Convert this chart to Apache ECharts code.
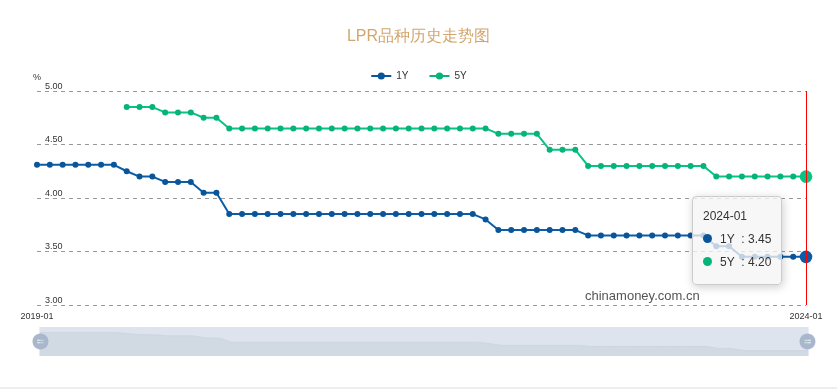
<!DOCTYPE html>
<html>
<head>
<meta charset="utf-8">
<script src="https://cdn.jsdelivr.net/npm/echarts@6/dist/echarts.min.js"></script>
<style>
html,body{margin:0;padding:0;background:#fff;}
#main{width:837px;height:392px;}
</style>
</head>
<body>
<div id="main"></div>
<script>
var months = [
'2019-01','2019-02','2019-03','2019-04','2019-05','2019-06','2019-07','2019-08','2019-09','2019-10','2019-11','2019-12',
'2020-01','2020-02','2020-03','2020-04','2020-05','2020-06','2020-07','2020-08','2020-09','2020-10','2020-11','2020-12',
'2021-01','2021-02','2021-03','2021-04','2021-05','2021-06','2021-07','2021-08','2021-09','2021-10','2021-11','2021-12',
'2022-01','2022-02','2022-03','2022-04','2022-05','2022-06','2022-07','2022-08','2022-09','2022-10','2022-11','2022-12',
'2023-01','2023-02','2023-03','2023-04','2023-05','2023-06','2023-07','2023-08','2023-09','2023-10','2023-11','2023-12',
'2024-01'
];
var lpr1Y = [
4.31,4.31,4.31,4.31,4.31,4.31,4.31,4.25,4.20,4.20,4.15,4.15,
4.15,4.05,4.05,3.85,3.85,3.85,3.85,3.85,3.85,3.85,3.85,3.85,
3.85,3.85,3.85,3.85,3.85,3.85,3.85,3.85,3.85,3.85,3.85,3.80,
3.70,3.70,3.70,3.70,3.70,3.70,3.70,3.65,3.65,3.65,3.65,3.65,
3.65,3.65,3.65,3.65,3.65,3.55,3.55,3.45,3.45,3.45,3.45,3.45,
3.45
];
var lpr5Y = [
null,null,null,null,null,null,null,4.85,4.85,4.85,4.80,4.80,
4.80,4.75,4.75,4.65,4.65,4.65,4.65,4.65,4.65,4.65,4.65,4.65,
4.65,4.65,4.65,4.65,4.65,4.65,4.65,4.65,4.65,4.65,4.65,4.65,
4.60,4.60,4.60,4.60,4.45,4.45,4.45,4.30,4.30,4.30,4.30,4.30,
4.30,4.30,4.30,4.30,4.30,4.20,4.20,4.20,4.20,4.20,4.20,4.20,
4.20
];
var seriesNames = ['1Y','5Y'];
var yTicks = {min: 3, max: 5, interval: 0.5};

var colors = ['#0a5599', '#07b378'];
var chart = echarts.init(document.getElementById('main'), null, {renderer: 'canvas'});
var handle = 'path://M512 0C794.8 0 1024 229.2 1024 512C1024 794.8 794.8 1024 512 1024C229.2 1024 0 794.8 0 512C0 229.2 229.2 0 512 0Z' +
  'M310 400V470H714V400Z M310 554V624H714V554Z';
var option = {
  animation: false,
  color: colors,
  title: {
    text: 'LPR品种历史走势图',
    left: 'center',
    top: 24,
    textStyle: {color: '#d3a66e', fontSize: 16, fontWeight: 'normal', fontFamily: 'sans-serif'}
  },
  legend: {
    data: seriesNames,
    top: 66,
    left: 'center',
    itemWidth: 20,
    itemHeight: 9,
    itemGap: 20,
    textStyle: {fontSize: 10, color: '#333'}
  },
  tooltip: {
    trigger: 'axis',
    transitionDuration: 0,
    backgroundColor: 'rgba(245,245,245,0.78)',
    borderColor: '#ccc',
    borderWidth: 1,
    padding: [8, 10, 10, 10],
    textStyle: {color: '#333', fontSize: 12},
    position: function () { return [692, 196]; },
    axisPointer: {type: 'line', lineStyle: {color: '#ff0000', width: 1, type: 'solid'}, z: 100},
    formatter: function (params) {
      var s = '<div style="line-height:23px;font-size:12px;color:#333">' + params[0].axisValue;
      params.forEach(function (p) {
        s += '<br/><span style="display:inline-block;width:9px;height:9px;border-radius:50%;background:' + p.color + ';margin-right:8px;"></span>' +
          p.seriesName + '&nbsp;&nbsp;: ' + Number(p.value).toFixed(2);
      });
      return s + '</div>';
    }
  },
  grid: {left: 37, right: 31, top: 91, bottom: 87, containLabel: false},
  xAxis: {
    type: 'category',
    data: months,
    boundaryGap: false,
    axisLine: {show: false},
    axisTick: {show: false},
    axisLabel: {interval: 59, fontSize: 9, color: '#333', margin: 7}
  },
  yAxis: {
    type: 'value',
    min: yTicks.min,
    max: yTicks.max,
    interval: yTicks.interval,
    name: '%',
    nameLocation: 'end',
    nameGap: 4,
    nameTextStyle: {fontSize: 9, color: '#333', align: 'center'},
    axisLine: {show: false},
    axisTick: {show: false},
    axisLabel: {inside: true, margin: 8, verticalAlign: 'bottom', fontSize: 9, color: '#333',
      formatter: function (v) { return v.toFixed(2); }},
    splitLine: {lineStyle: {type: [4, 4], color: '#999', width: 1}}
  },
  dataZoom: [{
    type: 'slider',
    xAxisIndex: 0,
    start: 0,
    end: 100,
    left: 37,
    right: 31,
    top: 327,
    height: 29,
    showDetail: false,
    brushSelect: false,
    moveHandleSize: 0,
    borderColor: 'transparent',
    backgroundColor: 'rgba(222,228,238,0.7)',
    fillerColor: 'rgba(205,214,228,0.4)',
    handleIcon: handle,
    handleSize: '55%',
    handleStyle: {color: '#a9b7cc', borderColor: '#a9b7cc', borderWidth: 0},
    dataBackground: {
      lineStyle: {color: '#c0c7d3', width: 0.5, opacity: 1},
      areaStyle: {color: '#cbd1dc', opacity: 0.7}
    },
    selectedDataBackground: {
      lineStyle: {color: '#c0c7d3', width: 0.5, opacity: 1},
      areaStyle: {color: '#cbd1dc', opacity: 0.7}
    },
    emphasis: {handleStyle: {color: '#a9b7cc'}}
  }],
  graphic: [
    {type: 'text', left: 585, top: 290, z: 1, silent: true,
      style: {text: 'chinamoney.com.cn', fill: '#555', font: '13px sans-serif'}},
    {type: 'rect', left: 0, top: 387, z: 0, silent: true,
      shape: {width: 837, height: 2}, style: {fill: '#eeeeee'}}
  ],
  series: [
    {
      name: seriesNames[0], type: 'line', data: lpr1Y,
      symbol: 'circle', symbolSize: 6, lineStyle: {width: 2},
      emphasis: {scale: 2.1, lineStyle: {width: 2}}
    },
    {
      name: seriesNames[1], type: 'line', data: lpr5Y,
      symbol: 'circle', symbolSize: 6, lineStyle: {width: 2},
      emphasis: {scale: 2.1, lineStyle: {width: 2}}
    }
  ]
};
chart.setOption(option);
chart.dispatchAction({type: 'showTip', seriesIndex: 0, dataIndex: months.length - 1});
</script>
</body>
</html>
